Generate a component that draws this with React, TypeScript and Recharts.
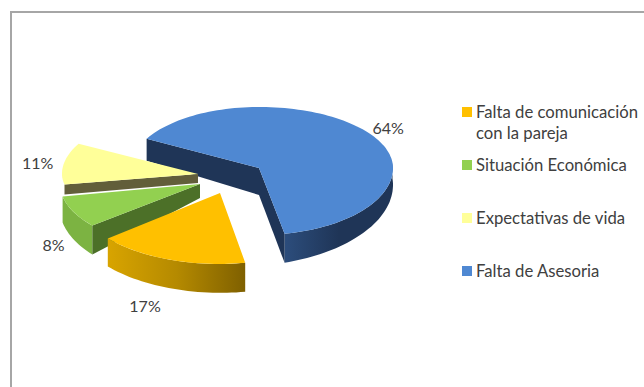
import { Legend, Pie, PieChart } from 'recharts'

// drawing order, back to front; the legend lists them the other way round
const categories = ['Falta de Asesoria', 'Expectativas de vida', 'Situación Económica', 'Falta de comunicación con la pareja']
const values = [64, 11, 8, 17]
const topColors = ['#4f88d2', '#ffff99', '#92d050', '#ffc000']

const pieData = categories.map((name, i) => ({ name, value: values[i], fill: topColors[i] }))

// exploded 3D look: where each slice's tip lands, ellipse radii, wall heights
const sliceLook: Record<string, any> = {
  'Falta de Asesoria': {
    x: 259, y: 168, rx: 134, rxLeft: 128, ryBack: 61, ryFront: 67,
    depth: [29, 16], walls: '#1f3557', startWall: [27, 29], endWall: [27, 22],
    stops: ['#2c4d7c', '#1f3557', '#1f3557'], label: [21, -4],
  },
  'Expectativas de vida': {
    x: 198, y: 174, rx: 136, ryBack: 63, ryFront: 55,
    depth: null, walls: '#625e3a', endWall: [9, 10],
    stops: [], label: [-26, -2],
  },
  'Situación Económica': {
    x: 200, y: 184, rx: 140, ryBack: 65, ryFront: 65,
    depth: [26, 29], walls: '#4c7028', endWall: [14, 29],
    stops: ['#7cb342', '#7cb342', '#7cb342'], label: [-20, 33],
  },
  'Falta de comunicación con la pareja': {
    x: 220, y: 193, rx: 132, rxLeft: 146, ryBack: 71, ryFront: 71,
    depth: [28, 29], walls: '#806000',
    stops: ['#d8a400', '#b58a00', '#7f6000'], label: [-26, 46],
  },
}

const rimPoint = (look: any, angle: number) => {
  const rad = (angle * Math.PI) / 180
  const sin = Math.sin(rad)
  const cos = Math.cos(rad)
  return {
    x: look.x + (cos < 0 && look.rxLeft ? look.rxLeft : look.rx) * cos,
    y: look.y - sin * (sin > 0 ? look.ryBack : look.ryFront),
  }
}

const toPath = (pts: { x: number; y: number }[]) =>
  pts.map((p, i) => `${i ? 'L' : 'M'}${p.x.toFixed(1)} ${p.y.toFixed(1)}`).join(' ') + ' Z'

function Slice3D(props: any) {
  const { startAngle, endAngle, fill } = props
  const name = props.payload?.name ?? props.name
  const look = sliceLook[name]
  const apex = { x: look.x, y: look.y }
  const rim: { x: number; y: number }[] = []
  for (let a = startAngle; a < endAngle; a += 2) rim.push(rimPoint(look, a))
  rim.push(rimPoint(look, endAngle))

  // front wall only where the rim faces the viewer
  let outerWall = null
  if (look.depth) {
    const from = Math.sin((startAngle * Math.PI) / 180) < 0 ? startAngle : 180
    const to = endAngle > 180 || endAngle < 0 ? endAngle : 5
    const first: { x: number; y: number }[] = []
    const bottom: { x: number; y: number }[] = []
    const steps = Math.ceil(Math.abs(to - from) / 2)
    for (let i = 0; i <= steps; i++) {
      const t = i / steps
      const p = rimPoint(look, from + (to - from) * t)
      first.push(p)
      bottom.push({ x: p.x, y: p.y + look.depth[0] + (look.depth[1] - look.depth[0]) * t })
    }
    outerWall = toPath([...first, ...bottom.reverse()])
  }

  const radialWall = (corner: { x: number; y: number }, h: number[]) =>
    toPath([apex, corner, { x: corner.x, y: corner.y + h[1] }, { x: apex.x, y: apex.y + h[0] }])

  const gradId = `wall-${values[categories.indexOf(name)]}`
  return (
    <g>
      {outerWall && (
        <>
          <linearGradient id={gradId} x1="0" y1="0" x2="1" y2="0">
            <stop offset="0%" stopColor={look.stops[0]} />
            <stop offset="50%" stopColor={look.stops[1]} />
            <stop offset="100%" stopColor={look.stops[2]} />
          </linearGradient>
          <path d={outerWall} fill={`url(#${gradId})`} />
        </>
      )}
      {look.startWall && <path d={radialWall(rim[0], look.startWall)} fill={look.walls} />}
      {look.endWall && <path d={radialWall(rim[rim.length - 1], look.endWall)} fill={look.walls} />}
      <path d={toPath([apex, ...rim])} fill={fill} />
    </g>
  )
}

function PercentLabel(props: any) {
  const name = props.payload?.name ?? props.name
  const look = sliceLook[name]
  const p = rimPoint(look, props.midAngle)
  return (
    <text
      x={p.x + look.label[0]}
      y={p.y + look.label[1]}
      textAnchor="middle"
      dominantBaseline="central"
      fontFamily="Lato"
      fontSize={16}
      fill="#404040"
    >
      {props.value}%
    </text>
  )
}

function SideLegend({ payload }: any) {
  const items = [...(payload ?? [])].reverse()
  return (
    <div style={{ fontFamily: 'Lato', fontSize: 16.7, lineHeight: '21px', color: '#404040' }}>
      {items.map((item: any) => (
        <div key={item.value} style={{ height: 53, display: 'flex' }}>
          <span style={{ width: 10, height: 10, marginTop: 5, marginRight: 4, flex: 'none', background: item.color }} />
          <span>{item.value}</span>
        </div>
      ))}
    </div>
  )
}

export default function App() {
  return (
    <div style={{ position: 'absolute', left: 0, top: 0, width: 644, height: 387, overflow: 'hidden', background: '#fff' }}>
      <div
        style={{
          position: 'absolute',
          left: 10,
          top: 11,
          right: 0,
          bottom: 0,
          borderLeft: '2px solid #a6a6a6',
          borderTop: '2px solid #a6a6a6',
        }}
      />
      <PieChart width={644} height={387} margin={{ top: 0, right: 0, bottom: 0, left: 0 }}>
        <Pie
          data={pieData}
          dataKey="value"
          nameKey="name"
          cx={259}
          cy={168}
          outerRadius={134}
          startAngle={-79}
          endAngle={281}
          stroke="none"
          shape={Slice3D}
          label={PercentLabel}
          labelLine={false}
          isAnimationActive={false}
        />
        <Legend
          content={SideLegend}
          layout="vertical"
          align="right"
          verticalAlign="top"
          itemSorter={null}
          wrapperStyle={{ left: 462, top: 102, width: 178 }}
        />
      </PieChart>
    </div>
  )
}
